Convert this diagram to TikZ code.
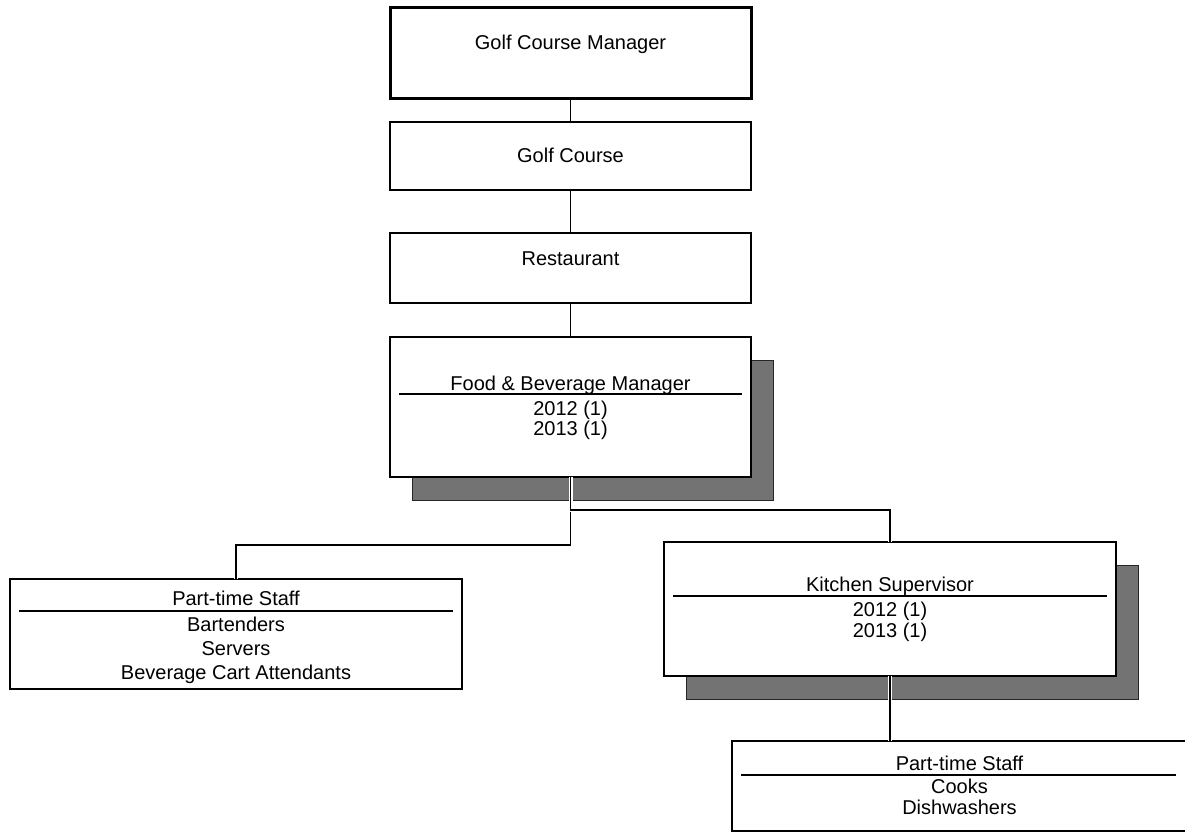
\documentclass[tikz,border=0pt]{standalone}
\usepackage{fontspec}
\setmainfont{Liberation Sans}
\usetikzlibrary{shadows}
\begin{document}
\begin{tikzpicture}[x=1pt, y=-1pt, font=\fontsize{20}{22}\selectfont,
		box/.style={draw, line width=1.3pt, fill=white, inner sep=0pt, outer sep=0pt, anchor=north west},
		shadowed/.style={drop shadow={shadow xshift=22pt, shadow yshift=-23pt, opacity=1,
			fill=black!55, draw=black!85, line width=0.8pt}},
		txt/.style={inner sep=0pt, anchor=base},
		link/.style={line width=1.3pt},
		halo/.style={preaction={draw=white, line width=4pt}}]
		% ==================================================
		% 1. 参数设置
		% ==================================================
		\def\topX{390}    % 上层四个框的左边 x
		\def\topW{361pt}  % 上层框的宽度
		\def\lowW{452pt}  % 下层框的宽度
		\def\inset{9pt}   % 分隔线两端缩进
		% ==================================================

		% 画布大小固定
		\useasboundingbox (0,0) rectangle (1185,833);

		% 2. 上层: 经理 -> 球场 -> 餐厅 -> 餐饮经理
		\node[box, line width=3pt, minimum width=\topW, minimum height=91pt] (gcm) at (\topX,7) {};
		\node[box, minimum width=\topW, minimum height=68pt] (course) at (\topX,122) {};
		\node[box, minimum width=\topW, minimum height=70pt] (rest) at (\topX,233) {};
		\node[box, shadowed, minimum width=\topW, minimum height=140pt] (fb) at (\topX,337) {};

		\node[txt] (gcmT) at ([yshift=-42pt]gcm.north) {Golf Course Manager};
		\node[txt] (courseT) at ([yshift=-40pt]course.north) {Golf Course};
		\node[txt] (restT) at ([yshift=-32pt]rest.north) {Restaurant};

		% 餐饮经理: 标题 + 分隔线 + 年份
		\node[txt] (fbT) at ([yshift=-53pt]fb.north) {Food \& Beverage Manager};
		\draw[link] ([xshift=\inset, yshift=-57pt]fb.north west) -- ([xshift=-\inset, yshift=-57pt]fb.north east);
		\foreach \yr [count=\i] in {2012 (1), 2013 (1)}
			\node[txt] (fb-\i) at ([yshift={-(58+20*\i)*1pt}]fb.north) {\yr};

		% 3. 下层三个框
		\node[box, minimum width=\lowW, minimum height=110pt] (staffA) at (10,579) {};
		\node[box, shadowed, minimum width=\lowW, minimum height=134pt] (kitchen) at (664,542) {};
		% 右边框线超出画布
		\node[box, minimum width=455pt, minimum height=90pt] (staffB) at (732,741) {};

		% 左: 兼职员工
		\node[txt] (staffAT) at ([yshift=-26pt]staffA.north) {Part-time Staff};
		\draw[link] ([xshift=\inset, yshift=-32pt]staffA.north west) -- ([xshift=-\inset, yshift=-32pt]staffA.north east);
		\foreach \job [count=\i] in {Bartenders, Servers, Beverage Cart Attendants}
			\node[txt] (staffA-\i) at ([yshift={-(28+24*\i)*1pt}]staffA.north) {\job};

		% 中: 厨房主管
		\node[txt] (kitchenT) at ([yshift=-49pt]kitchen.north) {Kitchen Supervisor};
		\draw[link] ([xshift=\inset, yshift=-54pt]kitchen.north west) -- ([xshift=-\inset, yshift=-54pt]kitchen.north east);
		\foreach \yr [count=\i] in {2012 (1), 2013 (1)}
			\node[txt] (kitchen-\i) at ([yshift={-(53+21*\i)*1pt}]kitchen.north) {\yr};

		% 右: 厨房兼职
		\node[txt] (staffBT) at ([yshift=-29pt]staffB.north) {Part-time Staff};
		\draw[link] ([xshift=\inset, yshift=-34pt]staffB.north west) -- ([xshift=-11pt, yshift=-34pt]staffB.north east);
		\foreach \job [count=\i] in {Cooks, Dishwashers}
			\node[txt] (staffB-\i) at ([yshift={-(31+21*\i)*1pt}]staffB.north) {\job};

		% 4. 连线
		\draw[link] (gcm.south) -- (course.north);
		\draw[link] (course.south) -- (rest.north);
		\draw[link] (rest.south) -- (fb.north);
		\draw[link, halo] (fb.south) -- ++(0,68) -| (staffA.north);
		\draw[link, halo] (fb.south) -- ++(0,33) -| (kitchen.north);
		\draw[link, halo] (kitchen.south) -- (kitchen.south |- staffB.north);

	\end{tikzpicture}
\end{document}
